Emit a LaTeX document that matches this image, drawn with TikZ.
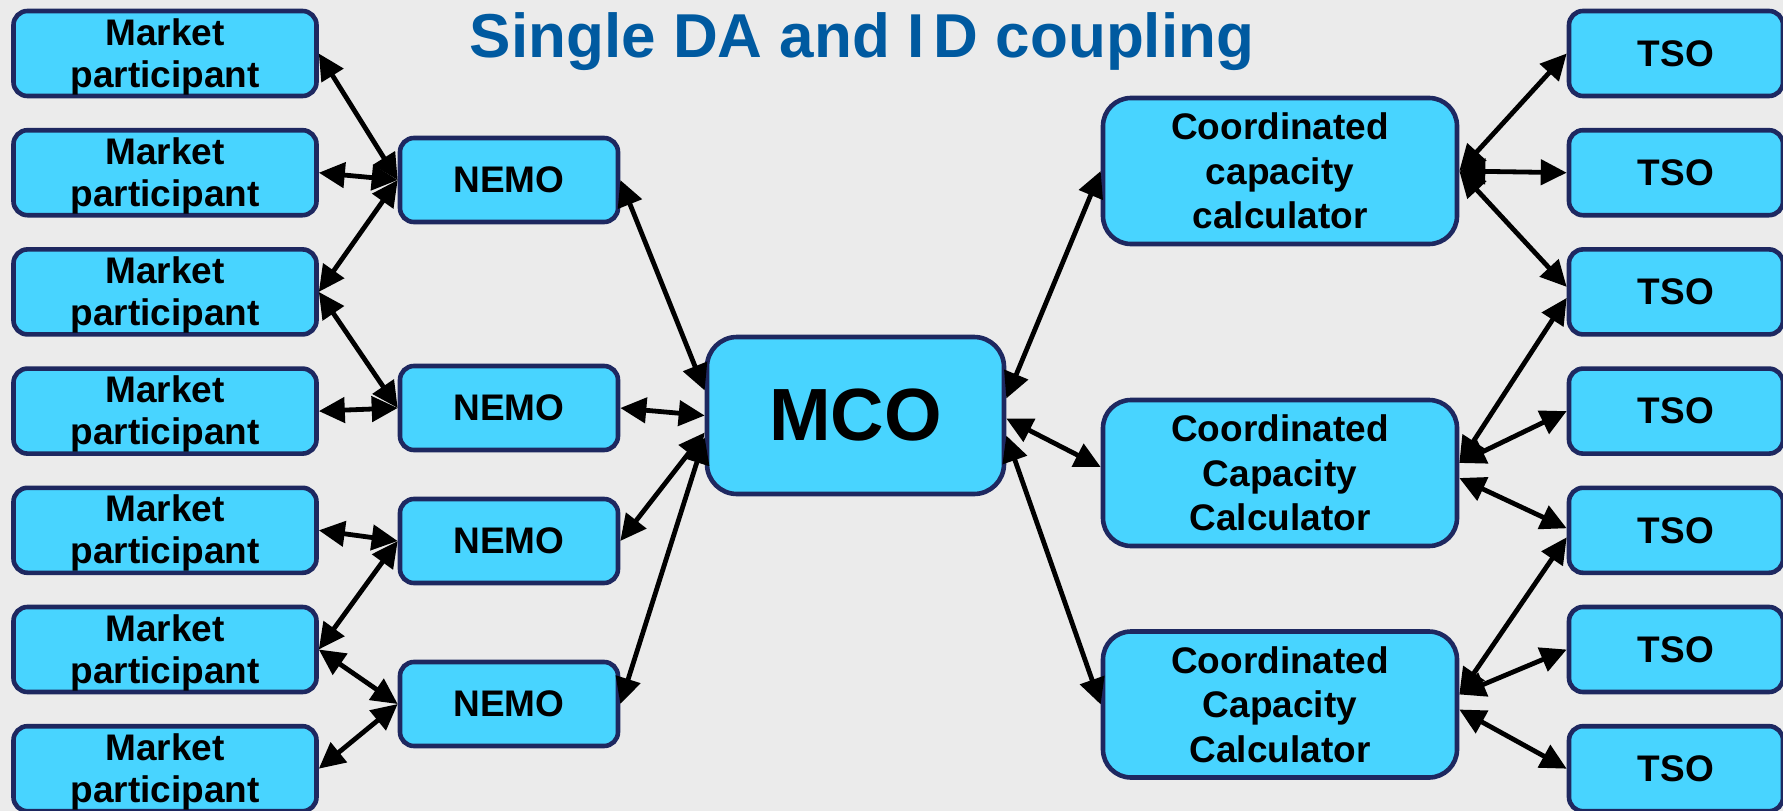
\documentclass[tikz,border=0pt]{standalone}
\usepackage{fontspec}
\setmainfont{Liberation Sans}
\usetikzlibrary{arrows.meta,calc}
\definecolor{bg}{RGB}{235,235,235}
\definecolor{boxfill}{RGB}{72,212,255}
\definecolor{boxline}{RGB}{30,40,96}
\definecolor{titleblue}{RGB}{0,90,160}
\newcommand{\mptext}{\rule{0pt}{33pt}Market\\participant}
\begin{document}
\begin{tikzpicture}[x=1pt,y=-1pt,
  ent/.style={draw=boxline, fill=boxfill, line width=4.6pt, rounded corners=14pt, inner sep=0pt, align=center, font=\bfseries\fontsize{37}{41}\selectfont},
  mp/.style={ent, minimum width=303pt, minimum height=85pt, font=\bfseries\fontsize{37}{42}\selectfont},
  nemo/.style={ent, minimum width=218pt, minimum height=84pt},
  tso/.style={ent, minimum width=214pt, minimum height=85pt},
  ccc/.style={ent, minimum width=354pt, minimum height=146pt, rounded corners=28pt, font=\bfseries\fontsize{37}{44.5}\selectfont},
  mco/.style={ent, minimum width=297pt, minimum height=157pt, rounded corners=30pt, font=\bfseries\fontsize{74}{80}\selectfont},
  link/.style={line width=4.8pt, {Triangle[length=26pt,width=25pt]}-{Triangle[length=26pt,width=25pt]}}
]
\useasboundingbox (0,0) rectangle (1783,811);
\fill[bg] (0,0) rectangle (1783,811);

\node[font=\bfseries\fontsize{62}{64}\selectfont, text=titleblue, anchor=base] (title) at (862,57) {Single DA and I\kern0.15em D coupling};

\node[mp] (mp1) at (165,53.5) {\mptext};
\node[mp] (mp2) at (165,172.7) {\mptext};
\node[mp] (mp3) at (165,291.9) {\mptext};
\node[mp] (mp4) at (165,411.1) {\mptext};
\node[mp] (mp5) at (165,530.3) {\mptext};
\node[mp] (mp6) at (165,649.5) {\mptext};
\node[mp] (mp7) at (165,768.7) {\mptext};

\node[nemo] (n1) at (509,180) {NEMO};
\node[nemo] (n2) at (509,408) {NEMO};
\node[nemo] (n3) at (509,541) {NEMO};
\node[nemo] (n4) at (509,704) {NEMO};

\node[mco] (mco) at (855.5,415.5) {MCO};

\node[ccc] (c1) at (1280,171) {Coordinated\\capacity\\calculator};
\node[ccc] (c2) at (1280,473) {Coordinated\\Capacity\\Calculator};
\node[ccc] (c3) at (1280,704.5) {Coordinated\\Capacity\\Calculator};

\node[tso] (t1) at (1676,53.5) {TSO};
\node[tso] (t2) at (1676,172.7) {TSO};
\node[tso] (t3) at (1676,291.9) {TSO};
\node[tso] (t4) at (1676,411.1) {TSO};
\node[tso] (t5) at (1676,530.3) {TSO};
\node[tso] (t6) at (1676,649.5) {TSO};
\node[tso] (t7) at (1676,768.7) {TSO};

\draw[link] (mp1.east) -- (n1.west);
\draw[link] (mp2.east) -- (n1.west);
\draw[link] (mp3.east) -- (n1.west);
\draw[link] (mp3.east) -- (n2.west);
\draw[link] (mp4.east) -- (n2.west);
\draw[link] (mp5.east) -- (n3.west);
\draw[link] (mp6.east) -- (n3.west);
\draw[link] (mp6.east) -- (n4.west);
\draw[link] (mp7.east) -- (n4.west);

\draw[link] (n1.east) -- ($(mco.west)+(0,-25)$);
\draw[link] (n2.east) -- (mco.west);
\draw[link] (n3.east) -- ($(mco.west)+(0,17)$);
\draw[link] (n4.east) -- ($(mco.west)+(0,22)$);

\draw[link] ($(mco.east)+(0,-17)$) -- (c1.west);
\draw[link] ($(mco.east)+(0,3)$) -- ($(c2.west)+(0,-6)$);
\draw[link] ($(mco.east)+(0,20)$) -- (c3.west);

\draw[link] (c1.east) -- (t1.west);
\draw[link] (c1.east) -- (t2.west);
\draw[link] (c1.east) -- ($(t3.west)+(0,-5)$);
\draw[link] ($(c2.east)+(0,-10)$) -- ($(t3.west)+(0,6)$);
\draw[link] ($(c2.east)+(0,-10)$) -- (t4.west);
\draw[link] ($(c2.east)+(0,5)$) -- ($(t5.west)+(0,-2)$);
\draw[link] ($(c3.east)+(0,-10)$) -- ($(t5.west)+(0,7)$);
\draw[link] ($(c3.east)+(0,-10)$) -- (t6.west);
\draw[link] ($(c3.east)+(0,5)$) -- (t7.west);
\end{tikzpicture}
\end{document}
